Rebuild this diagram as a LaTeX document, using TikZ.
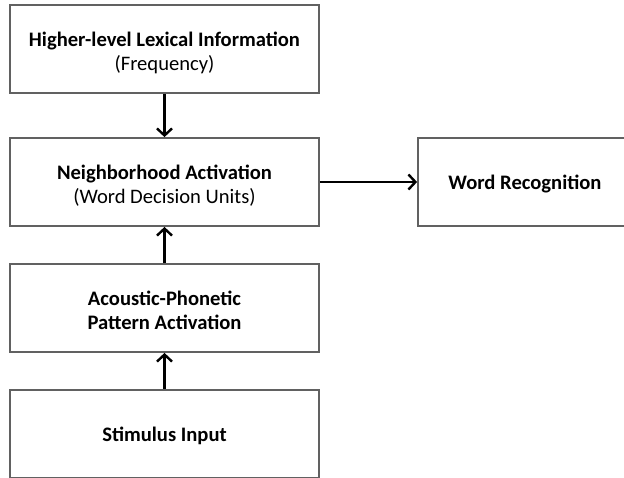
\documentclass[tikz,border=0pt]{standalone}
\usepackage{fontspec}
\setmainfont{Carlito}
\usetikzlibrary{arrows.meta}

\begin{document}
\begin{tikzpicture}[x=1pt,y=1pt,line width=1.8pt,line join=miter,
  font=\fontsize{20.6}{24}\selectfont,
  box/.style={draw=black!62,fill=white,minimum width=309pt,
    minimum height=88pt,inner sep=0pt,align=center,
    text height=42pt,text depth=0pt},
  onebox/.style={box,text height=14pt},
  flow/.style={-{Straight Barb[length=7pt,width=15pt]},line width=2.4pt}]
  \useasboundingbox (0,0) rectangle (624,-477);
  \begin{scope}
    \clip (0,0) rectangle (624,-477);
    % the four levels
    \node[box] (lex) at (164.5,-49)
      {\textbf{Higher-level Lexical Information}\\(Frequency)};
    \node[box] (nbh) at (164.5,-182)
      {\textbf{Neighborhood Activation}\\(Word Decision Units)};
    \node[box] (acp) at (164.5,-308)
      {\textbf{Acoustic-Phonetic}\\\textbf{Pattern Activation}};
    \node[onebox,text height=15pt] (stim) at (164.5,-434)
      {\textbf{Stimulus Input}};
    % output
    \node[onebox,minimum width=214pt] (rec) at (525,-182)
      {\textbf{Word Recognition}};
    % connections
    \draw[flow] (lex) -- (nbh);
    \draw[flow] (acp) -- (nbh);
    \draw[flow] (stim) -- (acp);
    \draw[flow] (nbh) -- (rec);
  \end{scope}
\end{tikzpicture}
\end{document}
